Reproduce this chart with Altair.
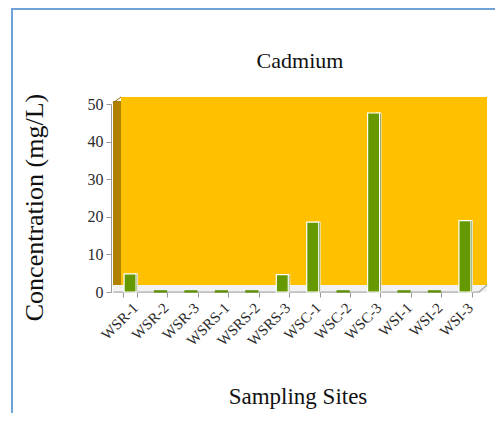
import altair as alt
import pandas as pd

sites = ["WSR-1", "WSR-2", "WSR-3", "WSRS-1", "WSRS-2", "WSRS-3",
         "WSC-1", "WSC-2", "WSC-3", "WSI-1", "WSI-2", "WSI-3"]
cadmium = [4.8, 0.3, 0.3, 0.3, 0.3, 4.6, 18.6, 0.3, 47.6, 0.3, 0.3, 19.0]
y_ticks = [0, 10, 20, 30, 40, 50]

df = pd.DataFrame({"site": sites, "value": cadmium})

W, H = 365, 188
SERIF = "Liberation Serif"

xenc = alt.X("site:N", sort=sites, scale=alt.Scale(paddingInner=0.55, paddingOuter=0.27),
             axis=alt.Axis(title="Sampling Sites", labelAngle=-45, labelAlign="right",
                           labelBaseline="middle", labelFont=SERIF, labelFontSize=15,
                           labelColor="#2A2A2A", labelPadding=8, labelOffset=5,
                           domain=False, tickColor="#999999", tickSize=5,
                           tickBand="extent", titleFont=SERIF, titleFontSize=23,
                           titleFontWeight="normal", titleColor="#111111",
                           titleY=104, titleBaseline="middle"))
yenc = alt.Y("value:Q", scale=alt.Scale(domain=[0, 50], nice=False),
             axis=alt.Axis(title="Concentration (mg/L)", values=y_ticks, grid=False,
                           offset=4, domainColor="#999999", tickColor="#999999",
                           tickSize=5, labelFont=SERIF, labelFontSize=16,
                           labelColor="#2A2A2A", labelPadding=3,
                           titleFont=SERIF, titleFontSize=26, titleFontWeight="normal",
                           titleColor="#111111", titleAngle=-90, titleX=-77, titleY=103,
                           titleAlign="center", titleBaseline="middle"))

one = pd.DataFrame({"k": [0]})

frame = alt.Chart(one).mark_rect(fill=None, stroke="#6FA3D8", strokeWidth=2).encode(
    x=alt.value(-103), x2=alt.value(520), y=alt.value(-95), y2=alt.value(420))

title = alt.Chart(one).mark_text(text="Cadmium", font=SERIF, fontSize=22,
                                 color="#111111", align="center", baseline="middle").encode(
    x=alt.value(185), y=alt.value(-43))

back_wall = alt.Chart(one).mark_rect(color="#FFC000").encode(
    x=alt.value(6), x2=alt.value(372), y=alt.value(-7), y2=alt.value(181))
left_wall = alt.Chart(one).mark_rect(color="#B08000").encode(
    x=alt.value(-2), x2=alt.value(6), y=alt.value(-3), y2=alt.value(185))
floor = alt.Chart(one).mark_rect(color="#F2F2F2").encode(
    x=alt.value(-2), x2=alt.value(372), y=alt.value(181), y2=alt.value(188))
floor_front = alt.Chart(one).mark_rule(color="#A6A6A6", strokeWidth=1.2).encode(
    x=alt.value(-2), x2=alt.value(364), y=alt.value(188), y2=alt.value(188))
floor_side = alt.Chart(one).mark_rule(color="#A6A6A6", strokeWidth=1.2).encode(
    x=alt.value(364), x2=alt.value(372), y=alt.value(188), y2=alt.value(181))
wall_edge = alt.Chart(one).mark_rule(color="#8A6500", strokeWidth=1).encode(
    x=alt.value(-2), x2=alt.value(6), y=alt.value(-1), y2=alt.value(-7))

side = alt.Chart(df).transform_filter("datum.value >= 1").mark_bar(
    color="#3F6600", stroke="white", strokeWidth=0.8, xOffset=5, width=5).encode(
    x=xenc, y=yenc, y2=alt.datum(0))
bars = alt.Chart(df).mark_bar(color="#669900", strokeWidth=1.2, width=12).encode(
    x=xenc, y=yenc,
    stroke=alt.condition("datum.value < 1", alt.value("#5E8F00"), alt.value("white")))

chart = alt.layer(frame, back_wall, left_wall, floor, floor_front, floor_side,
                  wall_edge, side, bars, title).properties(
    width=W, height=H,
    autosize=alt.AutoSizeParams(type="none"),
    padding={"left": 107, "top": 96, "right": 15, "bottom": 121},
).configure_view(stroke=None).configure(background="white")

chart.save("out.html", embed_options={"renderer": "svg", "actions": False})
